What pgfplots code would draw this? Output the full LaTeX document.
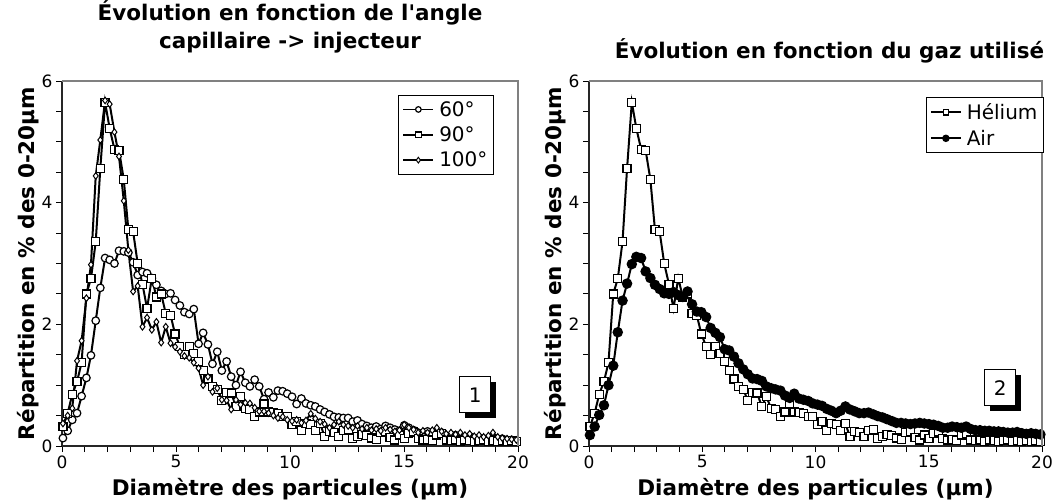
\documentclass[border=0pt]{standalone}
\usepackage{fontspec}
\setmainfont{DejaVu Sans}
\newfontfamily\plainfont{DejaVu Sans}
\usepackage{pgfplots}
\pgfplotsset{compat=1.18}
\usepackage{pgfplotstable}
\usetikzlibrary{shadows}

% columns: diameter, 60 deg, 90 deg (= helium), 100 deg, air
\pgfplotstableread{
x c60 h90 d100 air
0.04 0.13 0.32 0.37 0.18
0.25 0.25 0.54 0.50 0.32
0.45 0.43 0.85 0.62 0.51
0.66 0.54 1.06 1.40 0.67
0.86 0.82 1.37 1.73 1.00
1.07 1.12 2.50 2.43 1.32
1.27 1.49 2.75 2.98 1.87
1.48 2.06 3.36 4.44 2.39
1.68 2.60 4.56 5.03 2.67
1.89 3.09 5.65 5.68 2.99
2.09 3.06 5.22 5.62 3.11
2.30 3.00 4.88 5.16 3.09
2.50 3.21 4.86 4.76 2.87
2.71 3.20 4.38 4.03 2.76
2.91 3.18 3.56 3.22 2.65
3.12 3.02 3.52 2.54 2.58
3.32 2.81 3.00 2.63 2.51
3.53 2.86 2.66 1.96 2.50
3.73 2.84 2.26 2.11 2.53
3.94 2.76 2.76 1.91 2.48
4.14 2.65 2.45 2.04 2.45
4.35 2.55 2.50 1.70 2.54
4.55 2.50 2.18 1.96 2.33
4.76 2.51 2.15 1.69 2.21
4.96 2.40 1.84 1.63 2.20
5.17 2.31 1.64 1.55 2.12
5.37 2.20 1.51 1.48 1.94
5.58 2.17 1.64 1.45 1.86
5.78 2.25 1.52 1.37 1.79
5.99 1.68 1.39 1.28 1.59
6.19 1.86 1.24 1.00 1.57
6.40 1.67 1.10 1.14 1.47
6.60 1.35 0.98 0.89 1.36
6.81 1.55 0.93 0.95 1.26
7.01 1.24 0.75 0.76 1.18
7.22 1.39 0.88 0.75 1.11
7.42 1.14 0.87 0.60 1.10
7.63 1.00 0.65 0.76 1.07
7.83 1.22 0.81 0.68 0.98
8.04 1.04 0.62 0.71 0.95
8.24 0.98 0.60 0.70 0.93
8.45 1.09 0.48 0.63 0.91
8.65 0.98 0.56 0.57 0.83
8.86 0.77 0.69 0.57 0.79
9.06 0.88 0.56 0.54 0.86
9.27 0.80 0.55 0.50 0.78
9.47 0.91 0.54 0.46 0.76
9.68 0.90 0.48 0.48 0.74
9.88 0.86 0.48 0.43 0.70
10.09 0.81 0.35 0.41 0.68
10.29 0.69 0.40 0.43 0.66
10.50 0.78 0.26 0.38 0.61
10.70 0.70 0.37 0.42 0.58
10.91 0.67 0.35 0.53 0.54
11.11 0.65 0.26 0.45 0.58
11.32 0.60 0.37 0.40 0.65
11.52 0.56 0.15 0.36 0.60
11.73 0.52 0.24 0.30 0.57
11.93 0.48 0.22 0.35 0.54
12.14 0.47 0.15 0.40 0.54
12.34 0.46 0.26 0.35 0.55
12.55 0.46 0.27 0.33 0.52
12.75 0.40 0.12 0.30 0.49
12.96 0.42 0.15 0.33 0.47
13.16 0.36 0.19 0.28 0.44
13.37 0.33 0.17 0.30 0.41
13.57 0.30 0.13 0.26 0.38
13.78 0.32 0.11 0.28 0.38
13.98 0.28 0.22 0.25 0.37
14.19 0.33 0.24 0.30 0.36
14.39 0.30 0.14 0.27 0.37
14.60 0.27 0.10 0.24 0.38
14.80 0.25 0.18 0.26 0.37
15.01 0.34 0.12 0.35 0.36
15.21 0.30 0.21 0.30 0.35
15.42 0.26 0.23 0.27 0.33
15.62 0.22 0.12 0.22 0.30
15.83 0.20 0.10 0.25 0.30
16.03 0.24 0.11 0.22 0.32
16.24 0.20 0.09 0.26 0.31
16.44 0.18 0.18 0.30 0.30
16.65 0.22 0.20 0.24 0.32
16.85 0.17 0.10 0.20 0.28
17.06 0.16 0.09 0.22 0.26
17.26 0.18 0.10 0.19 0.26
17.47 0.15 0.08 0.22 0.25
17.67 0.14 0.10 0.18 0.25
17.88 0.16 0.09 0.20 0.24
18.08 0.13 0.08 0.16 0.24
18.29 0.14 0.09 0.18 0.23
18.49 0.12 0.10 0.15 0.22
18.70 0.13 0.08 0.17 0.22
18.90 0.12 0.09 0.22 0.23
19.11 0.11 0.08 0.15 0.21
19.31 0.12 0.09 0.13 0.20
19.52 0.10 0.08 0.12 0.21
19.72 0.10 0.09 0.11 0.20
19.93 0.09 0.08 0.10 0.19
}\granulo

\tikzset{
  tag/.style={draw=black, line width=1pt, fill=white, minimum width=31pt,
    minimum height=36pt, inner sep=0pt, font=\fontsize{20}{20}\selectfont,
    drop shadow={shadow xshift=5pt, shadow yshift=-5pt, opacity=1, fill=black}},
}

\pgfplotsset{
  panel/.style={
    scale only axis, height=365pt,
    xmin=0, xmax=20, ymin=0, ymax=6,
    axis x line*=bottom, axis y line*=left,
    axis line style={-, line width=1.2pt, black!85},
    xtick={0,5,10,15,20}, minor x tick num=4,
    ytick={0,2,4,6}, minor y tick num=3,
    tick align=outside,
    major tick length=6pt, minor tick length=6pt,
    every tick/.style={black, line width=1pt},
    tick label style={font=\fontsize{17}{20}\selectfont},
    /pgf/number format/assume math mode=true,
    xlabel={Diamètre des particules (µm)},
    ylabel={Répartition en \% des 0-20µm},
    label style={font=\bfseries\fontsize{21.5}{24}\selectfont},
    ylabel style={yshift=-4pt},
    xlabel style={yshift=-3pt},
    title style={font=\bfseries\fontsize{21.5}{28}\selectfont, align=center},
    legend style={draw=black, line width=0.8pt, anchor=north east,
      font=\fontsize{20}{24}\selectfont, inner xsep=4pt, inner ysep=4pt,
      row sep=5pt, /tikz/every odd column/.append style={column sep=3pt}},
    legend cell align=left,
    legend image code/.code={%
      \draw[mark repeat=2, mark phase=2, #1] plot coordinates {(0pt,0pt) (15pt,0pt) (30pt,0pt)};},
    legend image post style={mark size=2.8pt, line width=1.8pt},
    every axis plot/.append style={black, line width=2pt},
    after end axis/.code={%
      \draw[black!50, line width=1.2pt] (rel axis cs:0,1) -- (rel axis cs:1,1) -- (rel axis cs:1,0);},
  },
}

\begin{document}
\begin{tikzpicture}
\path[use as bounding box] (0pt,0pt) rectangle (1056pt,501pt);

\begin{axis}[panel, at={(62pt,55pt)}, anchor=south west, width=456pt,
  title={Évolution en fonction de l{\plainfont\bfseries '}angle\\capillaire -> injecteur},
  title style={yshift=18pt},
  legend style={at={(0.947,0.962)}}]
\addplot[mark=*, mark options={solid, fill=white, line width=1.2pt}, mark size=3.8pt]
  table[x=x, y=c60] {\granulo};
\addplot[mark=square*, mark options={solid, fill=white, line width=1.2pt}, mark size=4pt]
  table[x=x, y=h90] {\granulo};
\addplot[mark=diamond*, mark options={solid, fill=white, line width=1pt}, mark size=3.3pt]
  table[x=x, y=d100] {\granulo};
\legend{60°, 90°, 100°}
\node[tag] at (rel axis cs:0.906,0.14) {1};
\end{axis}

\begin{axis}[panel, at={(589pt,55pt)}, anchor=south west, width=453pt,
  title={Évolution en fonction du gaz utilisé},
  title style={yshift=8pt, xshift=14pt},
  legend style={at={(1.004,0.956)}}]
\addplot[mark=square*, mark options={solid, fill=white, line width=1.2pt}, mark size=4pt]
  table[x=x, y=h90] {\granulo};
\addplot[mark=*, mark options={solid, fill=black}, mark size=4.2pt]
  table[x=x, y=air] {\granulo};
\legend{Hélium, Air}
\node[tag] at (rel axis cs:0.908,0.159) {2};
\end{axis}
\end{tikzpicture}
\end{document}
